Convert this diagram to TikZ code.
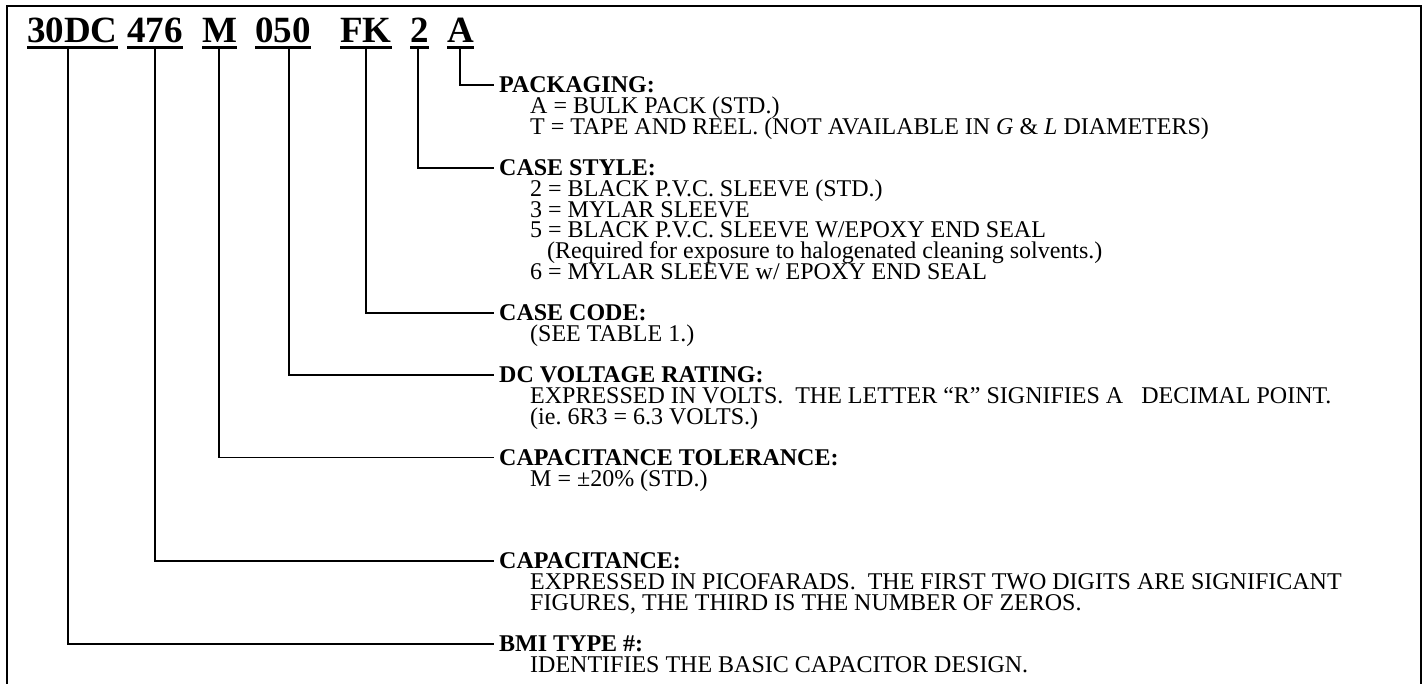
\documentclass[tikz,border=0pt]{standalone}
\usepackage{fontspec}
\setmainfont{Liberation Serif}
\frenchspacing
\begin{document}
\begin{tikzpicture}[x=1pt,y=-1pt,
  codetxt/.style={font=\fontsize{37}{37}\selectfont\bfseries, inner sep=0pt, anchor=base west},
  head/.style={font=\fontsize{24}{24}\selectfont\bfseries, inner sep=0pt, anchor=west},
  body/.style={font=\fontsize{24}{24}\selectfont, inner sep=0pt, anchor=base west},
  conn/.style={line width=1.6pt},
  uline/.style={line width=2.6pt},
  frame/.style={line width=1.8pt}]
\useasboundingbox (0,0) rectangle (1427,683);
\draw[frame] (7,690) -- (7,6) -- (1421,6) -- (1421,690);

% part number
\node[codetxt] (c30) at (27,42) {30DC};
\node[codetxt] (c476) at (127,42) {476};
\node[codetxt] (cM) at (202,42) {M};
\node[codetxt] (c050) at (255,42) {050};
\node[codetxt] (cFK) at (340,42) {FK};
\node[codetxt] (c2) at (410,42) {2};
\node[codetxt] (cA) at (447,42) {A};
\foreach \n in {c30,c476,cM,c050,cFK,c2,cA}
  \draw[uline] (\n.west |- 0,47.5) -- (\n.east |- 0,47.5);

% tops of the leader lines
\coordinate (t30) at (68,49);
\coordinate (t476) at (155,49);
\coordinate (tM) at (219,49);
\coordinate (t050) at (289,49);
\coordinate (tFK) at (366,49);
\coordinate (t2) at (418,49);
\coordinate (tA) at (460,49);

% headings
\node[head] (hPack) at (499,85) {PACKAGING:};
\node[head] (hStyle) at (499,167.8) {CASE STYLE:};
\node[head] (hCode) at (499,312.7) {CASE CODE:};
\node[head] (hVolt) at (499,374.8) {DC VOLTAGE RATING:};
\node[head] (hTol) at (499,457.6) {CAPACITANCE TOLERANCE:};
\node[head] (hCap) at (499,561.1) {CAPACITANCE:};
\node[head] (hBmi) at (499,643.9) {BMI TYPE \#:};

% body lines
\node[body] (bPack1) at (530,113.7) {A = BULK PACK (STD.)};
\node[body] (bPack2) at (530,134.4) {T = TAPE AND REEL. (NOT AVAILABLE IN \textit{G} \& \textit{L} DIAMETERS)};
\node[body] (bStyle1) at (530,196.5) {2 = BLACK P.V.C. SLEEVE (STD.)};
\node[body] (bStyle2) at (530,217.2) {3 = MYLAR SLEEVE};
\node[body] (bStyle3) at (530,237.9) {5 = BLACK P.V.C. SLEEVE W/EPOXY END SEAL};
\node[body] (bStyle4) at (547,258.6) {(Required for exposure to halogenated cleaning solvents.)};
\node[body] (bStyle5) at (530,279.3) {6 = MYLAR SLEEVE w/ EPOXY END SEAL};
\node[body] (bCode1) at (530,341.4) {(SEE TABLE 1.)};
\node[body] (bVolt1) at (530,403.5) {EXPRESSED IN VOLTS.\ \ THE LETTER “R” SIGNIFIES A\ \ \ DECIMAL POINT.};
\node[body] (bVolt2) at (530,424.2) {(ie. 6R3 = 6.3 VOLTS.)};
\node[body] (bTol1) at (530,486.3) {M = ±20\% (STD.)};
\node[body] (bCap1) at (530,589.8) {EXPRESSED IN PICOFARADS.\ \ THE FIRST TWO DIGITS ARE SIGNIFICANT};
\node[body] (bCap2) at (530,610.5) {FIGURES, THE THIRD IS THE NUMBER OF ZEROS.};
\node[body] (bBmi1) at (530,672.6) {IDENTIFIES THE BASIC CAPACITOR DESIGN.};

% leaders
\draw[conn] (tA) |- ([xshift=-5pt]hPack.west);
\draw[conn] (t2) |- ([xshift=-5pt]hStyle.west);
\draw[conn] (tFK) |- ([xshift=-5pt]hCode.west);
\draw[conn] (t050) |- ([xshift=-5pt]hVolt.west);
\draw[conn] (tM) |- ([xshift=-5pt]hTol.west);
\draw[conn] (t476) |- ([xshift=-5pt]hCap.west);
\draw[conn] (t30) |- ([xshift=-5pt]hBmi.west);
\end{tikzpicture}
\end{document}
